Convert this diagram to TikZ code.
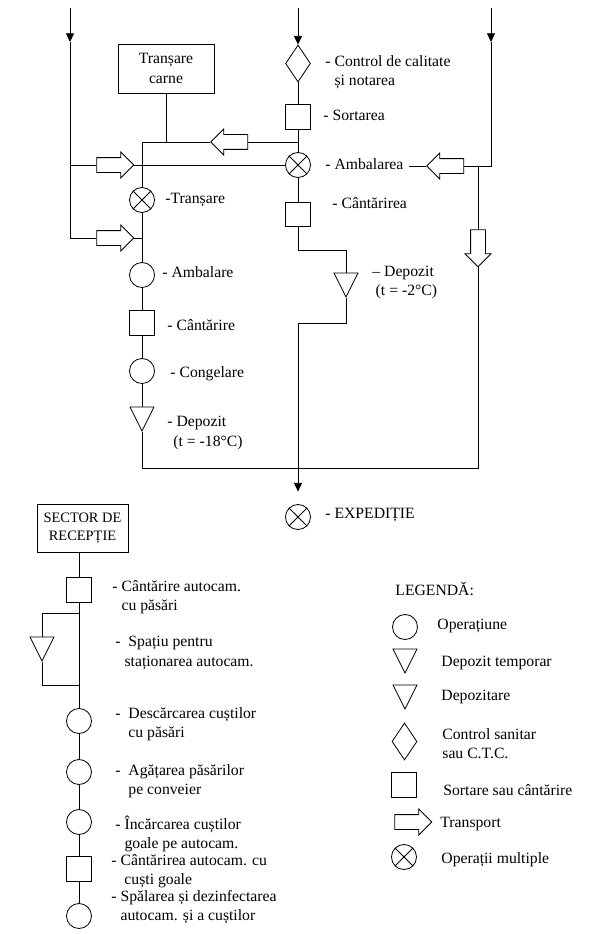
\documentclass[tikz,border=0pt]{standalone}
\usepackage{fontspec}
\setmainfont{Liberation Serif}
\usetikzlibrary{arrows.meta}
\usetikzlibrary{shapes.geometric}
\usetikzlibrary{shapes.arrows}
\tikzset{>={Triangle[length=2.6mm,width=2.4mm]}}

\begin{document}
\begin{tikzpicture}[x=.3mm, y=-.3mm, line width=.7pt,
    every node/.style={font=\fontsize{13.4}{16.5}\selectfont},
    oper/.style={circle, draw, inner sep=0pt, minimum size=7.5mm},
    multi/.style={oper},
    sortbox/.style={rectangle, draw, inner sep=0pt, minimum size=7.4mm},
    ctrl/.style={diamond, draw, inner sep=0pt, minimum width=7.5mm, minimum height=11.1mm},
    depo/.style={isosceles triangle, isosceles triangle stretches=true, draw, inner sep=0pt,
      minimum width=7.2mm, minimum height=7.2mm, shape border rotate=270},
    transp/.style={single arrow, draw, fill=white, inner xsep=0pt, inner ysep=2.1mm,
      minimum height=11.1mm, single arrow head extend=1.65mm},
    lbl/.style={anchor=west, align=left, inner sep=0pt}]
  \useasboundingbox (0,0) rectangle (592,934);

  % inputs from above
  \coordinate (inL) at (70,8);
  \coordinate (inM) at (298,8);
  \coordinate (inR) at (491,8);
  \coordinate (aL) at (70,42);
  \coordinate (aR) at (491,42);
  \coordinate (jL1) at (70,165);
  \coordinate (jL2) at (70,238);
  \coordinate (jR) at (491,166);
  \coordinate (jR2) at (478,166);

  % middle column
  \node[ctrl] (cc) at (298,63.5) {};
  \node[sortbox] (so) at (298,117) {};
  \node[multi] (amb) at (298,165) {};
  \node[sortbox] (cn) at (298,214.5) {};
  \node[depo, anchor=apex] (dm) at (346,298) {};
  \node[multi] (exp) at (298,517) {};

  % left column
  \node[rectangle, draw, minimum width=28.8mm, minimum height=14.7mm, align=center] (tc) at (166,68.5) {Tranșare\\carne};
  \node[multi] (tr) at (142,200) {};
  \node[oper] (amb2) at (142,275) {};
  \node[sortbox] (cn2) at (142,323) {};
  \node[oper] (cg) at (142,371) {};
  \node[depo, anchor=apex] (dl) at (142,432) {};

  % transport
  \node[transp] (tp1) at (111.5,165) {};
  \node[transp] (tp2) at (111.5,238) {};
  \node[transp, rotate=180] (tp3) at (233,142) {};
  \node[transp, rotate=180] (tp5) at (449,166) {};
  \node[transp, rotate=270] (tp4) at (478,244.5) {};

  \coordinate (c1) at (142,142);
  \coordinate (c2) at (298,142);
  \coordinate (c3) at (298,250);
  \coordinate (c4) at (298,323);
  \coordinate (b1) at (142,468);
  \coordinate (b2) at (478,468);

  % labels
  \node[lbl] (lcc) at (325,72) {- Control de calitate\\\phantom{- }și notarea};
  \node[lbl] (lso) at (323,115) {- Sortarea};
  \node[lbl] (lamb) at (325,164) {- Ambalarea};
  \node[lbl] (lcn) at (332,203) {- Cântărirea};
  \node[lbl] (ldm) at (372,282.5) {– Depozit\\\hspace{1mm}(t = -2°C)};
  \node[lbl] (ltr) at (165,200) {-Tranșare};
  \node[lbl] (lamb2) at (162,272) {- Ambalare};
  \node[lbl] (lcn2) at (167,325) {- Cântărire};
  \node[lbl] (lcg) at (170,374) {- Congelare};
  \node[lbl] (ldl) at (167,433) {- Depozit\\\hspace{1.8mm}(t = -18°C)};
  \node[lbl] (lexp) at (325,515) {- EXPEDIȚIE};

  % feed lines
  \draw[->] (inL) -- (aL);
  \draw (aL) -- (jL2) -- (tp2.tail);
  \draw (jL1) -- (tp1.tail);
  \draw[->] (inM) -- (cc);
  \draw[->] (inR) -- (aR);
  \draw (aR) -- (jR) -- (tp5.tail);
  \draw (jR2) -- (tp4.tail);
  \draw[shorten >=1.5mm] (tp5.tip) -- (tp5.tip -| lamb.east);

  % flow
  \draw (cc) -- (so) -- (amb) -- (cn);
  \draw (cn) -- (c3) -| (dm.lower side);
  \draw (dm.apex) |- (c4);
  \draw[->, shorten >=3.75mm] (c4) -- (exp);
  \draw (tc) -- (tc |- c1);
  \draw (c1) -- (tp3.tip);
  \draw (tp3.tail) -- (c2);
  \draw (tp1.tip) -- (amb);
  \draw (tp2.tip) -- (tp2.tip -| tr);
  \draw (c1) -- (tr) -- (amb2) -- (cn2) -- (cg) -- (dl.lower side);
  \draw (dl.apex) -- (b1) -- (b2) -- (tp4.tip);

  % reception sector
  \node[rectangle, draw, minimum width=27.3mm, minimum height=14.4mm, align=center,
    font=\fontsize{12.3}{15}\selectfont] (sr) at (82.5,528) {SECTOR DE\\RECEPȚIE};
  \node[sortbox] (q1) at (79,590) {};
  \node[depo, anchor=apex] (dt) at (42,662) {};
  \node[oper] (o1) at (79,721) {};
  \node[oper] (o2) at (79,772) {};
  \node[oper] (o3) at (79,822) {};
  \node[sortbox] (q2) at (79,869) {};
  \node[oper] (o4) at (79,916) {};
  \coordinate (b3) at (79,613);
  \coordinate (b4) at (79,685);
  \draw (sr.south -| q1) -- (q1) -- (o1) -- (o2) -- (o3) -- (q2) -- (o4);
  \draw (b3) -| (dt.lower side);
  \draw (dt.apex) |- (b4);

  \node[lbl] (lq1) at (112,597) {- Cântărire autocam.\\\phantom{- }cu păsări};
  \node[lbl] (ldt) at (115,653) {- \ Spațiu pentru\\\phantom{- }staționarea autocam.};
  \node[lbl] (lo1) at (115,724) {- \ Descărcarea cuștilor\\\phantom{- \ }cu păsări};
  \node[lbl] (lo2) at (115,781) {- \ Agățarea păsărilor\\\phantom{- \ }pe conveier};
  \node[lbl] (lo3) at (115,834) {- Încărcarea cuștilor\\\phantom{- }goale pe autocam.};
  \node[lbl] (lq2) at (111,871) {- Cântărirea autocam. cu\\\phantom{- \ }cuști goale};
  \node[lbl] (lo4) at (111,907) {- Spălarea și dezinfectarea\\\phantom{- }autocam. și a cuștilor};

  % legend
  \node[lbl] (lg) at (395,589) {LEGENDĂ:};
  \node[oper] (lo) at (405,627) {};
  \node[depo, anchor=apex] (lt1) at (405,674) {};
  \node[depo, anchor=apex] (lt2) at (405,710) {};
  \node[ctrl] (ld) at (404.5,741.5) {};
  \node[sortbox] (lq) at (404,785) {};
  \node[transp] (lp) at (409.5,822) {};
  \node[multi] (lx) at (404,857) {};
  \node[lbl] at (437,626) {Operațiune};
  \node[lbl] at (441,663) {Depozit temporar};
  \node[lbl] at (441,697) {Depozitare};
  \node[lbl] at (442,743.5) {Control sanitar\\sau C.T.C.};
  \node[lbl] at (443,790) {Sortare sau cântărire};
  \node[lbl] at (440,824) {Transport};
  \node[lbl] at (441,860) {Operații multiple};

  % crosses in the multiple-operation circles
  \foreach \n in {tr,amb,exp,lx}
    \draw (\n.45) -- (\n.225) (\n.135) -- (\n.315);
\end{tikzpicture}
\end{document}
